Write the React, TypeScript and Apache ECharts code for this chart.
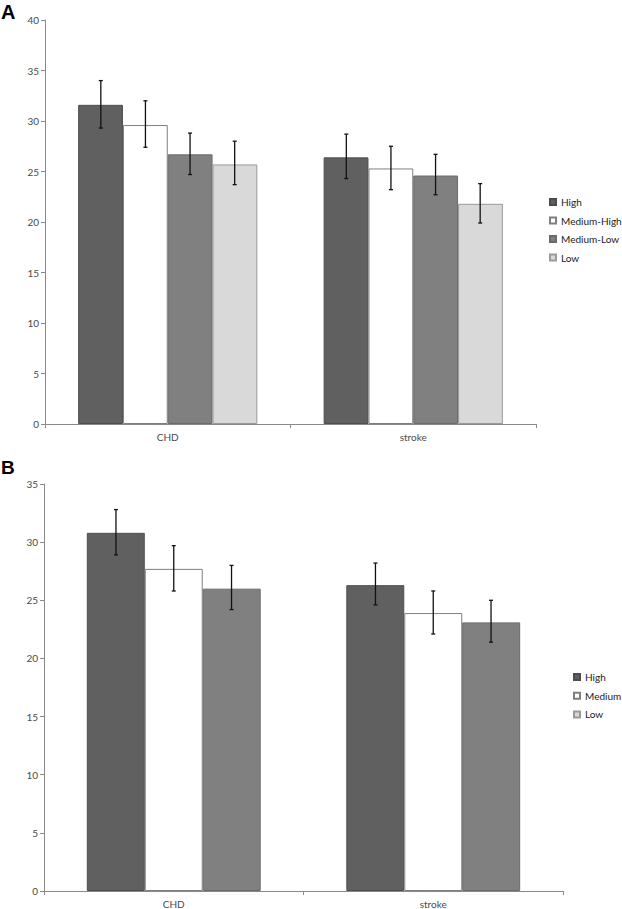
import React, { useEffect, useRef } from "react";
import * as echarts from "echarts";

const categories = ["CHD", "stroke"];

// Panel A
const seriesA = ["High", "Medium-High", "Medium-Low", "Low"];
const valuesA = [
  [31.6, 26.4],
  [29.6, 25.3],
  [26.7, 24.6],
  [25.7, 21.8],
];
const lowA = [
  [29.3, 24.3],
  [27.4, 23.2],
  [24.7, 22.7],
  [23.7, 19.9],
];
const highA = [
  [34.0, 28.7],
  [32.0, 27.5],
  [28.8, 26.7],
  [28.0, 23.8],
];
const ticksA = { min: 0, max: 40, interval: 5 };

// Panel B
const seriesB = ["High", "Medium", "Low"];
const valuesB = [
  [30.8, 26.3],
  [27.7, 23.9],
  [26.0, 23.1],
];
const lowB = [
  [28.9, 24.6],
  [25.8, 22.1],
  [24.2, 21.4],
];
const highB = [
  [32.8, 28.2],
  [29.7, 25.8],
  [28.0, 25.0],
];
const ticksB = { min: 0, max: 35, interval: 5 };

const colorsA = [
  { fill: "#606060", border: "#4d4d4d" },
  { fill: "#ffffff", border: "#7f7f7f" },
  { fill: "#808080", border: "#6a6a6a" },
  { fill: "#d9d9d9", border: "#9a9a9a" },
];
const colorsB = [
  { fill: "#606060", border: "#4d4d4d" },
  { fill: "#ffffff", border: "#7f7f7f" },
  { fill: "#808080", border: "#6a6a6a" },
];

const FONT = "Lato, 'Open Sans', sans-serif";
const AXIS_COLOR = "#8a8a8a";
const TEXT_COLOR = "#4a4a4a";

function buildPanel(
  gridIndex: number,
  names: string[],
  values: number[][],
  lows: number[][],
  highs: number[][],
  colors: { fill: string; border: string }[],
  gapFrac: number
) {
  const n = names.length;
  const out: any[] = [];
  names.forEach((name, i) => {
    out.push({
      type: "bar",
      name,
      xAxisIndex: gridIndex,
      yAxisIndex: gridIndex,
      data: values[i],
      barGap: "0%",
      barCategoryGap: Math.round(gapFrac * 100) + "%",
      itemStyle: { color: colors[i].fill, borderColor: colors[i].border, borderWidth: 1 },
      emphasis: { disabled: true },
    });
  });
  names.forEach((name, i) => {
    out.push({
      type: "custom",
      name: "err-" + gridIndex + "-" + i,
      xAxisIndex: gridIndex,
      yAxisIndex: gridIndex,
      z: 10,
      data: categories.map((_, c) => [c, lows[i][c], highs[i][c]]),
      renderItem: (params: any, api: any) => {
        const cat = api.value(0);
        const lo = api.value(1);
        const hi = api.value(2);
        const pLo = api.coord([cat, lo]);
        const pHi = api.coord([cat, hi]);
        const catW = api.size([1, 0])[0];
        const bw = (catW * (1 - gapFrac)) / n;
        const x = pLo[0] + (i - (n - 1) / 2) * bw;
        const cap = 2;
        const st = { stroke: "#111111", lineWidth: 1.3 };
        return {
          type: "group",
          children: [
            { type: "line", shape: { x1: x, y1: pLo[1], x2: x, y2: pHi[1] }, style: st },
            { type: "line", shape: { x1: x - cap, y1: pLo[1], x2: x + cap, y2: pLo[1] }, style: st },
            { type: "line", shape: { x1: x - cap, y1: pHi[1], x2: x + cap, y2: pHi[1] }, style: st },
          ],
        };
      },
    });
  });
  return out;
}

function axisPair(ticks: { min: number; max: number; interval: number }) {
  return {
    x: {
      type: "category",
      data: categories,
      axisLine: { lineStyle: { color: AXIS_COLOR, width: 1 } },
      axisTick: { show: true, length: 4, lineStyle: { color: AXIS_COLOR } },
      axisLabel: { color: TEXT_COLOR, fontSize: 10, fontFamily: FONT, margin: 8 },
      splitLine: { show: false },
    },
    y: {
      type: "value",
      min: ticks.min,
      max: ticks.max,
      interval: ticks.interval,
      axisLine: { show: true, lineStyle: { color: AXIS_COLOR, width: 1 } },
      axisTick: { show: true, length: 4, lineStyle: { color: AXIS_COLOR } },
      axisLabel: { color: TEXT_COLOR, fontSize: 10, fontFamily: FONT, margin: 6 },
      splitLine: { show: false },
    },
  };
}

export default function App() {
  const ref = useRef<HTMLDivElement>(null);
  useEffect(() => {
    document.body.style.margin = "0";
    if (!ref.current) return;
    const chart = echarts.init(ref.current, null, { renderer: "svg" });
    const a = axisPair(ticksA);
    const b = axisPair(ticksB);
    const legendText = { fontSize: 10, fontFamily: FONT, color: "#222222", lineHeight: 12 };
    chart.setOption({
      animation: false,
      backgroundColor: "#ffffff",
      grid: [
        { left: 45, top: 20, width: 491, height: 404 },
        { left: 44, top: 484, width: 519, height: 409 },
      ],
      xAxis: [{ ...a.x, gridIndex: 0 }, { ...b.x, gridIndex: 1 }],
      yAxis: [{ ...a.y, gridIndex: 0 }, { ...b.y, gridIndex: 1 }],
      legend: [
        {
          data: seriesA,
          orient: "vertical",
          left: 549,
          top: 196,
          padding: 0,
          itemWidth: 6,
          itemHeight: 6,
          itemGap: 6.5,
          icon: "rect",
          textStyle: legendText,
          selectedMode: false,
        },
        {
          data: seriesB,
          orient: "vertical",
          left: 573,
          top: 671,
          padding: 0,
          itemWidth: 6,
          itemHeight: 6,
          itemGap: 6.7,
          icon: "rect",
          textStyle: legendText,
          selectedMode: false,
        },
      ],
      graphic: [
        { type: "text", left: 1, top: 2, style: { text: "A", fontSize: 20, fontWeight: "bold", fontFamily: "'Liberation Sans', Arial, sans-serif", fill: "#000" } },
        { type: "text", left: 1, top: 458, style: { text: "B", fontSize: 19, fontWeight: "bold", fontFamily: "'Liberation Sans', Arial, sans-serif", fill: "#000" } },
      ],
      series: [
        ...buildPanel(0, seriesA, valuesA, lowA, highA, colorsA, 0.273),
        ...buildPanel(1, seriesB, valuesB, lowB, highB, colorsB, 0.332),
      ],
    });
    return () => chart.dispose();
  }, []);
  return <div ref={ref} style={{ position: "absolute", left: 0, top: 0, width: 622, height: 909 }} />;
}
